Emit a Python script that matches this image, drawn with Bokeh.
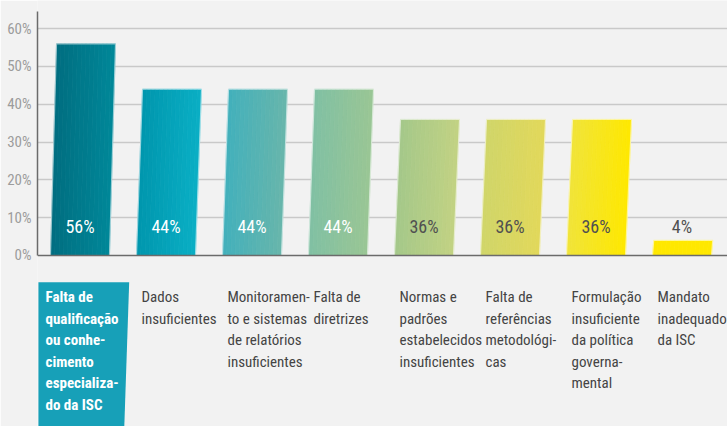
from bokeh.plotting import figure
from bokeh.models import Range1d, FixedTicker, PrintfTickFormatter, Span, ColumnDataSource
from bokeh.core.properties import value
from bokeh.embed import file_html
from bokeh.resources import INLINE

# ---- data ----
categories = [
    "Falta de\nqualificação\nou conhe-\ncimento\nespecializa-\ndo da ISC",
    "Dados\ninsuficientes",
    "Monitoramen-\nto e sistemas\nde relatórios\ninsuficientes",
    "Falta de\ndiretrizes",
    "Normas e\npadrões\nestabelecidos\ninsuficientes",
    "Falta de\nreferências\nmetodológi-\ncas",
    "Formulação\ninsuficiente\nda política\ngoverna-\nmental",
    "Mandato\ninadequado\nda ISC",
]
values = [56, 44, 44, 44, 36, 36, 36, 4]
value_labels = ["56%", "44%", "44%", "44%", "36%", "36%", "36%", "4%"]
y_ticks = [0, 10, 20, 30, 40, 50, 60]

# ---- styles ----
left_colors = ["#006d80", "#0096ad", "#42b0bc", "#80c0a4", "#a4c88a", "#d0d66a", "#f0e43a", "#ffe800"]
right_colors = ["#008899", "#0aafc5", "#68b6ab", "#9ac694", "#c2d283", "#e2d85a", "#ffe800", "#ffe800"]
label_colors = ["#ffffff", "#ffffff", "#ffffff", "#ffffff", "#505050", "#505050", "#505050", "#505050"]
BG = "#f2f2f2"
FONT = "Roboto Condensed"
BAR_W = 0.686
SLANT = 0.07
NSTRIP = 14


def hex2rgb(h):
    h = h.lstrip("#")
    return tuple(int(h[k:k + 2], 16) for k in (0, 2, 4))


def mix(a, b, t):
    ra, rb = hex2rgb(a), hex2rgb(b)
    return "#%02x%02x%02x" % tuple(int(round(ra[k] + (rb[k] - ra[k]) * t)) for k in range(3))


p = figure(width=727, height=426, output_backend="svg", toolbar_location=None,
           x_range=Range1d(-0.494, 7.529), y_range=Range1d(-45.24, 67.46),
           x_axis_location=None, y_axis_location="left",
           min_border_left=37, min_border_right=0, min_border_top=0, min_border_bottom=0,
           background_fill_color=BG, border_fill_color=BG, outline_line_color=None)

# grid
p.xgrid.visible = False
p.ygrid.ticker = FixedTicker(ticks=y_ticks[1:])
p.ygrid.grid_line_color = "#c9c9c9"
p.ygrid.grid_line_width = 1.5

# y axis
p.yaxis.ticker = FixedTicker(ticks=y_ticks)
p.yaxis.formatter = PrintfTickFormatter(format="%d%%")
p.yaxis.bounds = (0, 64.5)
p.yaxis.axis_line_color = "#6b6b6b"
p.yaxis.axis_line_width = 1.5
p.yaxis.major_tick_line_color = None
p.yaxis.minor_tick_line_color = None
p.yaxis.major_tick_out = 0
p.yaxis.major_tick_in = 0
p.yaxis.minor_tick_out = 0
p.yaxis.major_label_text_color = "#9c9c9c"
p.yaxis.major_label_text_font = FONT
p.yaxis.major_label_text_font_size = "15px"
p.yaxis.major_label_standoff = 6

# bars with horizontal gradient (strips)
xs, ys, cols = [], [], []
oxs, oys = [], []
for i, v in enumerate(values):
    s = SLANT * min(v, 20) / 20.0
    bl = i - BAR_W / 2
    for j in range(NSTRIP):
        f0, f1 = j / NSTRIP, (j + 1) / NSTRIP
        xs.append([bl + f0 * BAR_W, bl + f1 * BAR_W, bl + f1 * BAR_W + s, bl + f0 * BAR_W + s])
        ys.append([0, 0, v, v])
        cols.append(mix(left_colors[i], right_colors[i], (j + 0.5) / NSTRIP))
    oxs.append([bl, bl + BAR_W, bl + BAR_W + s, bl + s])
    oys.append([0, 0, v, v])

p.patches(xs=xs, ys=ys, fill_color=cols, line_color=cols, line_width=0.8)
p.patches(xs=oxs, ys=oys, fill_color=None, line_color="white", line_alpha=0.55, line_width=1.2)

# baseline
p.add_layout(Span(location=0, dimension="width", line_color="#6b6b6b", line_width=1.5))

# value labels
p.text(x=list(range(len(values))), y=[7.7] * len(values), text=value_labels,
       text_color=label_colors, text_font=value(FONT), text_font_size="18px",
       text_align="center", text_baseline="middle")

# highlighted first category box
p.patch(x=[-0.483, 0.572, 0.514, -0.483], y=[-7.1, -7.1, -46, -46],
        fill_color="#17a0b8", line_color=None)
p.text(x=[-0.401], y=[-8.6], text=[categories[0]], text_color="white",
       text_font=value(FONT), text_font_style="bold", text_font_size="15px",
       text_align="left", text_baseline="top", text_line_height=1.2)

# other category labels
src = ColumnDataSource(dict(x=[i - 0.285 for i in range(1, len(categories))],
                            y=[-8.6] * (len(categories) - 1),
                            t=categories[1:]))
p.text(x="x", y="y", text="t", source=src, text_color="#444444",
       text_font=value(FONT), text_font_size="15px",
       text_align="left", text_baseline="top", text_line_height=1.2)

open("out.html", "w").write(file_html(p, INLINE))
